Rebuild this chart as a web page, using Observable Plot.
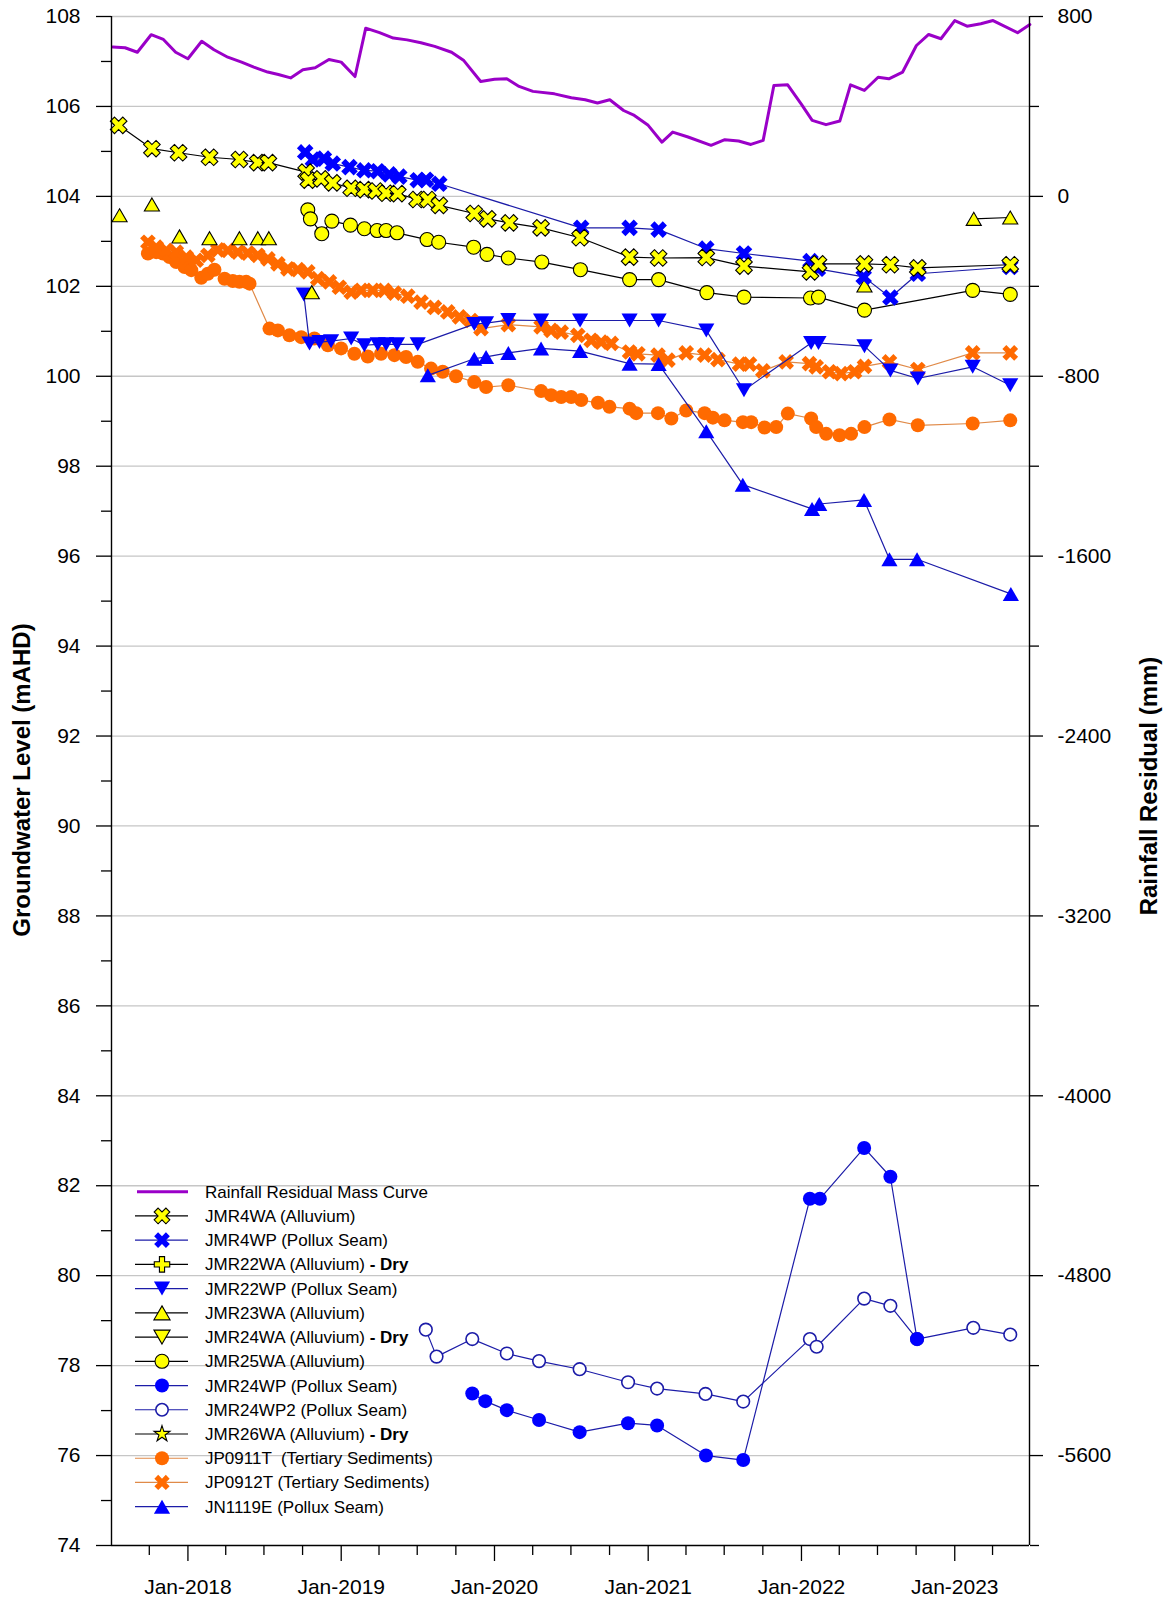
<!DOCTYPE html>
<html><head><meta charset="utf-8">
<script src="https://cdn.jsdelivr.net/npm/d3@7"></script>
<script src="https://cdn.jsdelivr.net/npm/@observablehq/plot@0.6"></script>
<style>
html,body{margin:0;padding:0;background:#fff;}
#chart{position:relative;width:1167px;height:1599px;}
</style></head><body><div id="chart"></div>
<script>
// ---------------- DATA (decimal year, value) ----------------
const rainfallResidual = [[2017.51,664],[2017.59,661],[2017.67,641],[2017.76,719],[2017.84,698],[2017.92,641],[2018.00,612],[2018.09,690],[2018.17,652],[2018.26,619],[2018.35,597],[2018.43,575],[2018.52,553],[2018.59,542],[2018.67,527],[2018.75,563],[2018.83,572],[2018.92,609],[2019.00,597],[2019.09,533],[2019.16,748],[2019.25,728],[2019.34,704],[2019.43,696],[2019.52,683],[2019.61,667],[2019.72,641],[2019.80,604],[2019.91,511],[2020.00,521],[2020.08,523],[2020.16,489],[2020.25,467],[2020.39,456],[2020.50,439],[2020.59,430],[2020.67,415],[2020.75,430],[2020.84,382],[2020.91,360],[2021.00,316],[2021.09,241],[2021.16,286],[2021.26,264],[2021.41,227],[2021.50,252],[2021.59,246],[2021.67,231],[2021.75,249],[2021.82,493],[2021.91,496],[2022.00,409],[2022.07,338],[2022.16,319],[2022.25,335],[2022.32,496],[2022.41,471],[2022.50,530],[2022.57,523],[2022.66,553],[2022.75,671],[2022.83,720],[2022.91,701],[2023.00,782],[2023.08,757],[2023.17,768],[2023.25,782],[2023.41,728],[2023.49,764]];

const JMR4WA = [[2017.548,105.58],[2017.765,105.06],[2017.939,104.97],[2018.141,104.87],[2018.336,104.82],[2018.456,104.75],[2018.525,104.75],[2018.771,104.54],[2018.786,104.36],[2018.869,104.39],[2018.945,104.30],[2019.065,104.18],[2019.151,104.15],[2019.228,104.12],[2019.293,104.07],[2019.369,104.06],[2019.495,103.93],[2019.565,103.93],[2019.640,103.80],[2019.868,103.62],[2019.956,103.50],[2020.097,103.41],[2020.303,103.30],[2020.557,103.08],[2020.879,102.65],[2021.068,102.63],[2021.379,102.64],[2021.625,102.45],[2022.059,102.32],[2022.111,102.50],[2022.411,102.50],[2022.580,102.48],[2022.759,102.41],[2023.362,102.48]];

const JMR4WP = [[2018.765,104.98],[2018.815,104.82],[2018.887,104.84],[2018.945,104.73],[2019.054,104.65],[2019.151,104.58],[2019.238,104.56],[2019.314,104.49],[2019.379,104.44],[2019.499,104.36],[2019.553,104.37],[2019.640,104.28],[2020.564,103.30],[2020.879,103.30],[2021.068,103.26],[2021.379,102.84],[2021.625,102.73],[2022.059,102.56],[2022.107,102.39],[2022.406,102.21],[2022.580,101.75],[2022.759,102.28],[2023.362,102.43]];

const JMR22WP = [[2018.756,101.82],[2018.793,100.73],[2018.858,100.76],[2018.934,100.78],[2019.065,100.84],[2019.151,100.69],[2019.238,100.71],[2019.293,100.71],[2019.364,100.71],[2019.499,100.71],[2019.868,101.16],[2019.945,101.18],[2020.090,101.25],[2020.303,101.24],[2020.557,101.24],[2020.879,101.24],[2021.068,101.24],[2021.379,101.02],[2021.625,99.69],[2022.063,100.74],[2022.111,100.74],[2022.411,100.67],[2022.580,100.13],[2022.759,99.95],[2023.117,100.21],[2023.362,99.80]];

// JMR23WA readings; third value = connected segment id
const JMR23WA = [[2017.554,103.58,1],[2017.765,103.82,2],[2017.945,103.11,3],[2018.141,103.07,4],[2018.336,103.07,5],[2018.456,103.07,6],[2018.528,103.07,7],[2018.808,101.87,8],[2022.411,102.02,9],[2023.124,103.50,10],[2023.362,103.53,10]];

const JMR25WA = [[2018.782,103.70],[2018.799,103.50],[2018.873,103.17],[2018.939,103.45],[2019.060,103.36],[2019.151,103.28],[2019.234,103.24],[2019.293,103.24],[2019.364,103.19],[2019.560,103.04],[2019.636,102.98],[2019.864,102.87],[2019.951,102.71],[2020.090,102.63],[2020.308,102.54],[2020.559,102.37],[2020.879,102.15],[2021.068,102.15],[2021.383,101.86],[2021.625,101.76],[2022.059,101.74],[2022.111,101.76],[2022.411,101.47],[2023.117,101.91],[2023.362,101.82]];

const JMR24WP = [[2019.855,77.38],[2019.940,77.21],[2020.080,77.01],[2020.290,76.79],[2020.554,76.52],[2020.869,76.72],[2021.058,76.67],[2021.377,76.00],[2021.620,75.90],[2022.055,81.71],[2022.120,81.71],[2022.409,82.84],[2022.580,82.20],[2022.754,78.59]];

const JMR24WP2 = [[2019.552,78.80],[2019.622,78.20],[2019.855,78.59],[2020.080,78.27],[2020.290,78.10],[2020.554,77.92],[2020.869,77.63],[2021.058,77.49],[2021.374,77.37],[2021.620,77.20],[2022.055,78.59],[2022.099,78.42],[2022.409,79.49],[2022.580,79.33],[2022.754,78.59],[2023.121,78.84],[2023.362,78.69]];

const JP0911T = [[2017.739,102.73],[2017.793,102.76],[2017.837,102.73],[2017.880,102.65],[2017.924,102.54],[2017.978,102.43],[2018.022,102.36],[2018.087,102.19],[2018.130,102.28],[2018.173,102.37],[2018.239,102.17],[2018.293,102.12],[2018.336,102.10],[2018.380,102.10],[2018.402,102.06],[2018.532,101.06],[2018.587,101.02],[2018.662,100.91],[2018.739,100.87],[2018.825,100.84],[2018.913,100.69],[2018.999,100.62],[2019.086,100.50],[2019.173,100.44],[2019.260,100.50],[2019.347,100.47],[2019.423,100.43],[2019.499,100.32],[2019.586,100.17],[2019.662,100.10],[2019.749,100.00],[2019.868,99.87],[2019.945,99.76],[2020.090,99.80],[2020.303,99.67],[2020.368,99.58],[2020.434,99.54],[2020.499,99.54],[2020.564,99.47],[2020.673,99.41],[2020.748,99.32],[2020.879,99.28],[2020.922,99.18],[2021.064,99.18],[2021.151,99.06],[2021.248,99.24],[2021.368,99.18],[2021.422,99.08],[2021.498,99.02],[2021.618,98.98],[2021.672,98.98],[2021.759,98.86],[2021.835,98.87],[2021.911,99.17],[2022.063,99.06],[2022.096,98.87],[2022.161,98.72],[2022.248,98.69],[2022.324,98.72],[2022.411,98.87],[2022.574,99.04],[2022.759,98.91],[2023.117,98.95],[2023.362,99.02]];

const JP0912T = [[2017.739,102.98],[2017.793,102.87],[2017.859,102.80],[2017.924,102.76],[2017.989,102.65],[2018.054,102.58],[2018.130,102.69],[2018.195,102.81],[2018.261,102.80],[2018.326,102.76],[2018.391,102.74],[2018.456,102.69],[2018.522,102.61],[2018.587,102.50],[2018.652,102.39],[2018.717,102.37],[2018.782,102.32],[2018.847,102.17],[2018.923,102.10],[2018.988,101.98],[2019.065,101.87],[2019.130,101.91],[2019.206,101.91],[2019.282,101.91],[2019.347,101.85],[2019.434,101.78],[2019.521,101.65],[2019.608,101.53],[2019.695,101.43],[2019.771,101.32],[2019.847,101.24],[2019.912,101.06],[2020.090,101.15],[2020.303,101.10],[2020.368,101.02],[2020.434,100.98],[2020.542,100.91],[2020.629,100.80],[2020.694,100.76],[2020.760,100.73],[2020.879,100.54],[2020.933,100.50],[2021.064,100.47],[2021.129,100.36],[2021.248,100.52],[2021.368,100.47],[2021.455,100.37],[2021.596,100.27],[2021.661,100.27],[2021.748,100.12],[2021.900,100.32],[2022.052,100.28],[2022.096,100.21],[2022.183,100.10],[2022.259,100.06],[2022.346,100.10],[2022.411,100.22],[2022.574,100.32],[2022.759,100.15],[2023.117,100.52],[2023.362,100.52]];

const JN1119E = [[2019.565,100.02],[2019.868,100.39],[2019.945,100.43],[2020.090,100.52],[2020.303,100.62],[2020.557,100.56],[2020.879,100.28],[2021.068,100.27],[2021.379,98.78],[2021.617,97.59],[2022.069,97.05],[2022.116,97.16],[2022.408,97.25],[2022.574,95.93],[2022.754,95.93],[2023.366,95.16]];

// axes / ticks
const xDomain = ["2017-07-03", "2023-06-28"];
const xMajorTicks = ["2018-01-01","2019-01-01","2020-01-01","2021-01-01","2022-01-01","2023-01-01"];
const xMinorTicks = ["2017-10-01","2018-04-01","2018-07-01","2018-10-01","2019-04-01","2019-07-01","2019-10-01","2020-04-01","2020-07-01","2020-10-01","2021-04-01","2021-07-01","2021-10-01","2022-04-01","2022-07-01","2022-10-01","2023-04-01"];
const yLeftMajor = d3.range(74, 109, 2);
const yLeftMinor = d3.range(75, 108, 2);
const rainfallTicks = [800, 0, -800, -1600, -2400, -3200, -4000, -4800, -5600];
const rainfallMinorTicks = [400, -400, -1200, -2000, -2800, -3600, -4400, -5200, -6000];
const yDomain = [74, 108];
const rainToLevel = mm => 104 + mm / 200;   // right axis: 800 mm ↔ 108 mAHD, 0 ↔ 104
const levelToRain = y => (y - 104) * 200;

const legendLabels = [
  ["Rainfall Residual Mass Curve", ""],
  ["JMR4WA (Alluvium)", ""],
  ["JMR4WP (Pollux Seam)", ""],
  ["JMR22WA (Alluvium) ", "- Dry"],
  ["JMR22WP (Pollux Seam)", ""],
  ["JMR23WA (Alluvium)", ""],
  ["JMR24WA (Alluvium) ", "- Dry"],
  ["JMR25WA (Alluvium)", ""],
  ["JMR24WP (Pollux Seam)", ""],
  ["JMR24WP2 (Pollux Seam)", ""],
  ["JMR26WA (Alluvium) ", "- Dry"],
  ["JP0911T  (Tertiary Sediments)", ""],
  ["JP0912T (Tertiary Sediments)", ""],
  ["JN1119E (Pollux Seam)", ""]
];

// ---------------- helpers ----------------
const FONT = "'Liberation Sans', Arial, Helvetica, sans-serif";
const toDate = t => { const y = Math.floor(t); const s = Date.UTC(y,0,1), e = Date.UTC(y+1,0,1); return new Date(s + (t - y) * (e - s)); };
const rows = arr => arr.map(([t, v, seg]) => ({date: toDate(t), value: v, seg: seg ?? 0}));
const pd = s => new Date(s + "T00:00:00Z");

// custom symbols
const rot = (x, y, a) => [x*Math.cos(a) - y*Math.sin(a), x*Math.sin(a) + y*Math.cos(a)];
const crossPts = r => [[-3*r,-r],[-r,-r],[-r,-3*r],[r,-3*r],[r,-r],[3*r,-r],[3*r,r],[r,r],[r,3*r],[-r,3*r],[-r,r],[-3*r,r]];
const poly = (ctx, pts) => { ctx.moveTo(...pts[0]); for (const p of pts.slice(1)) ctx.lineTo(...p); ctx.closePath(); };
const symbolX = {draw(ctx, size) { const r = Math.sqrt(size / 5) / 2; poly(ctx, crossPts(r).map(([x,y]) => rot(x,y,Math.PI/4))); }};
const symbolPlus = {draw(ctx, size) { const r = Math.sqrt(size / 5) / 2; poly(ctx, crossPts(r)); }};
const triPts = (size, dir) => { const h = Math.sqrt(size / (3*Math.sqrt(3))); const w = Math.sqrt(3)*h; return [[0, -1.5*h*dir],[w, 1.5*h*dir],[-w, 1.5*h*dir]]; };
const symbolUp = {draw(ctx, size){ poly(ctx, triPts(size, 1)); }};
const symbolDown = {draw(ctx, size){ poly(ctx, triPts(size, -1)); }};

const BLUE = "#0000ff", NAVY = "#1c1ca8", YEL = "#ffff00", ORG = "#ff6a00", ORGLINE = "#e08a48", PURPLE = "#9a00c8";

// series styles (draw order)
const series = [
  {data: JP0911T, symbol: "circle", r: 7, fill: ORG, stroke: "none", line: ORGLINE},
  {data: JP0912T, symbol: symbolX, r: 7, fill: ORG, stroke: "none", line: ORGLINE},
  {data: JMR24WP2, symbol: "circle", r: 6.3, fill: "white", stroke: NAVY, line: NAVY, sw: 1.6},
  {data: JMR24WP, symbol: "circle", r: 7, fill: BLUE, stroke: "none", line: NAVY},
  {data: JN1119E, symbol: symbolUp, r: 6, fill: BLUE, stroke: "none", line: NAVY},
  {data: JMR22WP, symbol: symbolDown, r: 6, fill: BLUE, stroke: "none", line: NAVY},
  {data: JMR23WA, symbol: symbolUp, r: 5.6, fill: YEL, stroke: "black", line: "black", seg: true},
  {data: JMR25WA, symbol: "circle", r: 7, fill: YEL, stroke: "black", line: "black"},
  {data: JMR4WP, symbol: symbolX, r: 7.4, fill: BLUE, stroke: "none", line: NAVY},
  {data: JMR4WA, symbol: symbolX, r: 7.4, fill: YEL, stroke: "black", line: "black"}
];

const marks = [
  Plot.gridY(yLeftMajor.filter(v => v > 74), {stroke: "#c6c6c6", strokeOpacity: 1, strokeWidth: 1.3}),
  Plot.line(rainfallResidual.map(([t, mm]) => ({date: toDate(t), y: rainToLevel(mm)})), {x: "date", y: "y", stroke: PURPLE, strokeWidth: 3})
];
for (const s of series) {
  const d = rows(s.data);
  marks.push(Plot.line(d, {x: "date", y: "value", z: s.seg ? "seg" : null, stroke: s.line, strokeWidth: 1.2}));
  marks.push(Plot.dot(d, {x: "date", y: "value", symbol: s.symbol, r: s.r, fill: s.fill, stroke: s.stroke, strokeWidth: s.sw ?? 1.1}));
}
marks.push(
  Plot.ruleX(xDomain.map(pd), {stroke: "black", strokeWidth: 1.4}),
  Plot.ruleY([yDomain[0]], {stroke: "black", strokeWidth: 1.4}),
  Plot.axisX(xMajorTicks.map(pd), {tickSize: 16, tickPadding: 18, tickFormat: d3.utcFormat("%b-%Y"), label: null, strokeWidth: 1.3}),
  Plot.axisX(xMinorTicks.map(pd), {tickSize: 10, tickFormat: () => "", label: null, strokeWidth: 1.3}),
  Plot.axisY(yLeftMajor, {anchor: "left", tickSize: 15, tickPadding: 16, tickFormat: d => String(d), label: null, strokeWidth: 1.3}),
  Plot.axisY(yLeftMinor, {anchor: "left", tickSize: 10, tickFormat: () => "", label: null, strokeWidth: 1.3}),
  Plot.axisY(rainfallTicks.map(rainToLevel), {anchor: "right", tickSize: 13, tickPadding: 15, tickFormat: d => String(Math.round(levelToRain(d))), label: null, strokeWidth: 1.3}),
  Plot.axisY(rainfallMinorTicks.map(rainToLevel), {anchor: "right", tickSize: 9, tickFormat: () => "", label: null, strokeWidth: 1.3})
);

const svg = Plot.plot({
  width: 1167, height: 1599,
  marginLeft: 111, marginRight: 138, marginTop: 16, marginBottom: 54,
  x: {type: "utc", domain: xDomain.map(pd), axis: null},
  y: {domain: yDomain, axis: null},
  style: {fontFamily: FONT, fontSize: "21px", color: "black", background: "white", overflow: "visible"},
  marks
});
document.getElementById("chart").appendChild(svg);

// ---------------- titles ----------------
const S = d3.select(svg);
S.append("text").attr("transform", "translate(21,780) rotate(-90)")
  .attr("text-anchor", "middle").attr("dominant-baseline", "central")
  .style("font", `bold 24px ${FONT}`).text("Groundwater Level (mAHD)");
S.append("text").attr("transform", "translate(1148,786) rotate(-90)")
  .attr("text-anchor", "middle").attr("dominant-baseline", "central")
  .style("font", `bold 24px ${FONT}`).text("Rainfall Residual (mm)");

// ---------------- legend ----------------
const legendStyles = [
  {line: PURPLE, lw: 3},
  {line: "black", sym: symbolX, r: 7, fill: YEL, stroke: "black"},
  {line: NAVY, sym: symbolX, r: 7, fill: BLUE, stroke: "none"},
  {line: "black", sym: symbolPlus, r: 6.5, fill: YEL, stroke: "black"},
  {line: NAVY, sym: symbolDown, r: 6, fill: BLUE, stroke: "none"},
  {line: "black", sym: symbolUp, r: 6, fill: YEL, stroke: "black"},
  {line: "black", sym: symbolDown, r: 6, fill: YEL, stroke: "black"},
  {line: "black", sym: d3.symbolCircle, r: 7, fill: YEL, stroke: "black"},
  {line: NAVY, sym: d3.symbolCircle, r: 7, fill: BLUE, stroke: "none"},
  {line: NAVY, sym: d3.symbolCircle, r: 6.2, fill: "white", stroke: NAVY, sw: 1.6},
  {line: "black", sym: d3.symbolStar, r: 5, fill: YEL, stroke: "black"},
  {line: ORGLINE, sym: d3.symbolCircle, r: 7, fill: ORG, stroke: "none"},
  {line: ORGLINE, sym: symbolX, r: 6.8, fill: ORG, stroke: "none"},
  {line: NAVY, sym: symbolUp, r: 6, fill: BLUE, stroke: "none"}
];
const lg = S.append("g").attr("class", "legend").attr("text-anchor", "start");
legendLabels.forEach(([txt, bold], i) => {
  const st = legendStyles[i];
  const y = 1191.7 + i * 24.23;
  const g = lg.append("g").attr("transform", `translate(0,${y})`);
  g.append("line").attr("x1", st.lw ? 137 : 135).attr("x2", 188).attr("y1", 0).attr("y2", 0)
    .attr("stroke", st.line).attr("stroke-width", st.lw || 1.2);
  if (st.sym) {
    g.append("path").attr("transform", "translate(162,0)")
      .attr("d", d3.symbol().type(st.sym).size(Math.PI * st.r * st.r)())
      .attr("fill", st.fill).attr("stroke", st.stroke).attr("stroke-width", st.sw || 1.1);
  }
  const t = g.append("text").attr("x", 205).attr("y", 0).attr("dominant-baseline", "central")
    .attr("text-anchor", "start")
    .style("font", `17px ${FONT}`).style("white-space", "pre").attr("fill", "black");
  t.append("tspan").text(txt);
  if (bold) t.append("tspan").style("font-weight", "bold").text(bold);
});
</script></body></html>
